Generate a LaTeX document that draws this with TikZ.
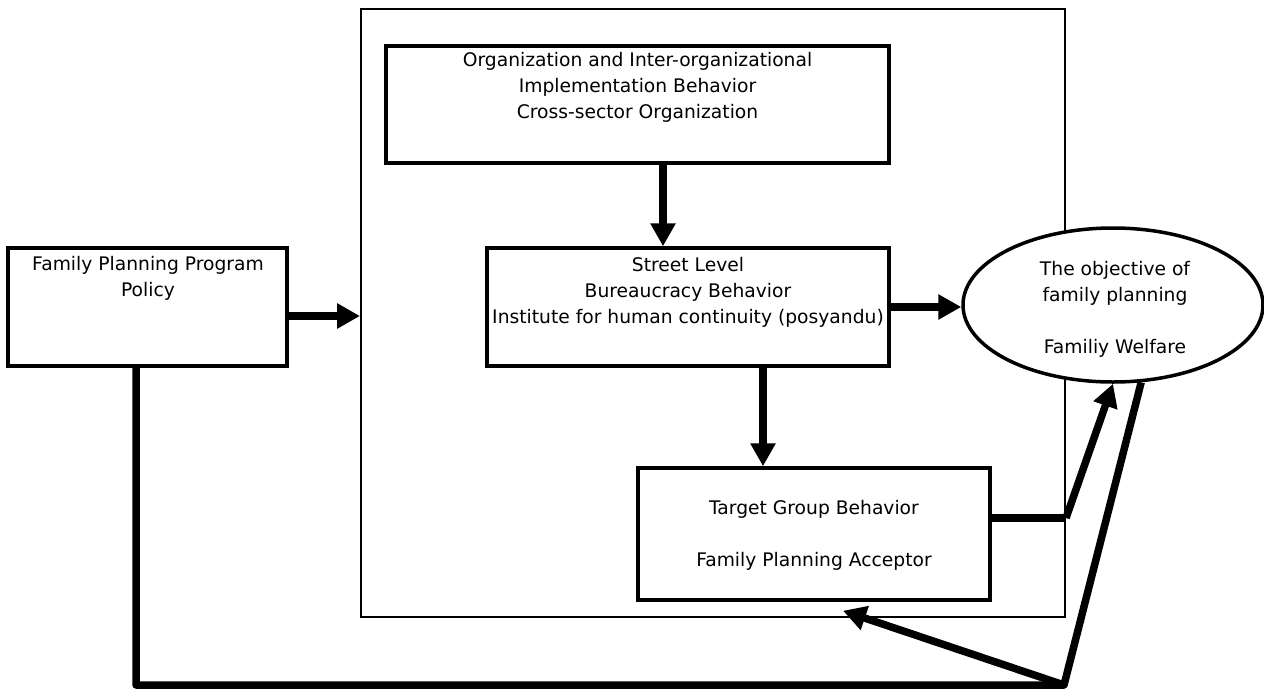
\documentclass[tikz,border=0pt]{standalone}
\usepackage{fontspec}
\setmainfont{DejaVu Sans}
\usetikzlibrary{shapes.geometric,arrows.meta}
\begin{document}
\begin{tikzpicture}[x=1pt,y=-1pt,
  box/.style={draw, line width=3.5pt, fill=white, inner sep=0pt},
  conn/.style={line width=7.5pt, line join=round},
  arr/.style={line width=7.5pt, -{Triangle[length=23pt,width=24pt]}},
  txt/.style={align=center, font=\fontsize{18.7}{26}\selectfont, inner sep=0pt},
]
\useasboundingbox (0,0) rectangle (1264,691);
% outer frame
\node[draw, line width=2pt, minimum width=704pt, minimum height=608pt, inner sep=0pt] (outer) at (713,313) {};
% ellipse
\node[ellipse, draw, line width=3.5pt, fill=white, minimum width=300pt, minimum height=154pt, inner sep=0pt] (goal) at (1113,305) {};
\node[txt] (goaltxt) at (1115,309.5) {The objective of\\family planning\\[26pt]Familiy Welfare};
% boxes
\node[box, minimum width=279pt, minimum height=118pt] (left) at (147.5,307) {};
\node[txt] (lefttxt) at (148,278.5) {Family Planning Program\\Policy};
\node[box, minimum width=503pt, minimum height=117pt] (top) at (637.5,104.5) {};
\node[txt] (toptxt) at (637.5,87.5) {Organization and Inter-organizational\\Implementation Behavior\\Cross-sector Organization};
\node[box, minimum width=402pt, minimum height=118pt] (street) at (688,307) {};
\node[txt] (streettxt) at (688,292) {Street Level\\Bureaucracy Behavior\\Institute for human continuity (posyandu)};
\node[box, minimum width=352pt, minimum height=132pt] (target) at (814,534) {};
\node[txt] (targettxt) at (814,535) {Target Group Behavior\\[26pt]Family Planning Acceptor};
% helper coordinates
\coordinate (br) at (1064,685);
\coordinate (bl) at (136,685);
\coordinate (tbend) at ([yshift=16pt]target.east -| outer.east);
% connectors
\draw[arr] ([yshift=-9pt]left.east) -- ([yshift=-9pt]left.east -| outer.west);
\draw[arr] ([xshift=25.5pt]top.south) -- ([xshift=25.5pt]top.south |- street.north);
\draw[arr] (street.east) -- (street.east -| goal.west);
\draw[arr] ([xshift=75pt]street.south) -- ([xshift=75pt]street.south |- target.north);
\draw[conn] ([yshift=16pt]target.east) -- (tbend);
\draw[arr] (tbend) -- (goal.south);
\draw[conn] (goal.-70) -- (br) -- (bl) -- (bl |- left.south);
\draw[arr] (br) -- ([xshift=29pt,yshift=-9pt]target.south);
\end{tikzpicture}
\end{document}
